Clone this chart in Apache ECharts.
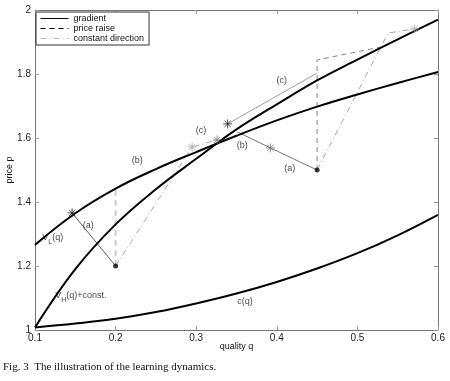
<!DOCTYPE html>
<html>
<head>
<meta charset="utf-8">
<script src="https://cdn.jsdelivr.net/npm/echarts@6/dist/echarts.min.js"></script>
<style>html,body{margin:0;padding:0;background:#fff;}#c{width:450px;height:381px;}</style>
</head>
<body>
<div id="c"></div>
<script>
// ---- data ----
const qValues = [0.10, 0.15, 0.20, 0.25, 0.30, 0.35, 0.40, 0.45, 0.50, 0.55, 0.60];
const vL = [1.266, 1.365, 1.442, 1.503, 1.556, 1.607, 1.655, 1.698, 1.736, 1.772, 1.806];
const vH = [1.008, 1.19, 1.33, 1.44, 1.535, 1.627, 1.705, 1.78, 1.845, 1.908, 1.97];
const cq = [1.008, 1.02, 1.035, 1.056, 1.083, 1.114, 1.15, 1.192, 1.24, 1.296, 1.36];

const xTicks = [0.1, 0.2, 0.3, 0.4, 0.5, 0.6];
const yTicks = [1, 1.2, 1.4, 1.6, 1.8, 2];

const gradientLeft = [[0.2, 1.2], [0.146, 1.366]];
const gradientRight = [[0.45, 1.5], [0.392, 1.569], [0.351, 1.619]];
const gradientUpper = [[0.339, 1.644], [0.45, 1.803]];
const priceRaiseLeft = [[0.2, 1.2], [0.2, 1.44]];
const priceRaiseRight = [[0.45, 1.5], [0.45, 1.844], [0.528, 1.884]];
const constDirLeft = [[0.2, 1.2], [0.295, 1.572], [0.326, 1.594]];
const constDirRight = [[0.45, 1.5], [0.538, 1.928], [0.571, 1.941]];

const starsDark = [[0.146, 1.366], [0.339, 1.644]];
const starsGray = [[0.326, 1.594], [0.392, 1.569]];
const starsLight = [[0.295, 1.572], [0.571, 1.941]];
const dots = [[0.2, 1.2], [0.45, 1.5]];

const labelTexts = ['(a)', '(b)', '(c)', '(b)', '(a)', '(c)', 'c(q)'];
const labelPos = [[0.166, 1.325], [0.227, 1.531], [0.306, 1.622], [0.357, 1.578], [0.416, 1.506], [0.406, 1.781], [0.3605, 1.09]];
const vLLabelPos = [0.122, 1.29];
const vHLabelPos = [0.157, 1.107];

// ---- chart ----
const FONT = 'Liberation Sans, Arial, sans-serif';
const starPath = 'path://M0,-5L0,5M-5,0L5,0M-3.5,-3.5L3.5,3.5M-3.5,3.5L3.5,-3.5';
const fmt = v => (Math.round(v * 10) / 10).toString();

function curve(name, ys) {
  return {
    type: 'line', name: name, data: qValues.map((x, i) => [x, ys[i]]),
    smooth: 0.4, symbol: 'none', silent: true,
    itemStyle: { color: '#000' },
    lineStyle: { color: '#000', width: 2 }, z: 3
  };
}
function seg(name, pts, color, width, type) {
  return {
    type: 'line', name: name, data: pts, symbol: 'none', silent: true,
    itemStyle: { color: 'transparent' },
    lineStyle: { color: color, width: width, type: type }, z: 2
  };
}
function stars(pts, color) {
  return {
    type: 'scatter', data: pts, symbol: starPath, symbolSize: 9, silent: true,
    itemStyle: { color: 'transparent', borderColor: color, borderWidth: 1 }, z: 4
  };
}

const chart = echarts.init(document.getElementById('c'), null, { renderer: 'canvas' });
const axisCommon = {
  axisLine: { show: true, lineStyle: { color: '#777', width: 1 } },
  axisTick: { show: true, inside: true, length: 4, lineStyle: { color: '#999' } },
  splitLine: { show: false }
};
const hiddenSymbol = { opacity: 0, color: 'transparent', borderWidth: 0 };
chart.setOption({
  animation: false,
  backgroundColor: '#fff',
  grid: { left: 35, right: 12, top: 10, bottom: 51, containLabel: false, outerBoundsMode: 'none' },
  xAxis: [
    Object.assign({
      type: 'value', min: xTicks[0], max: xTicks[xTicks.length - 1], interval: 0.1,
      position: 'bottom',
      name: 'quality q', nameLocation: 'middle', nameGap: 12, nameMoveOverlap: false,
      nameTextStyle: { fontFamily: FONT, fontSize: 9, color: '#111' },
      axisLabel: { fontFamily: FONT, fontSize: 10, color: '#222', margin: 3, formatter: fmt }
    }, axisCommon),
    Object.assign({
      type: 'value', min: xTicks[0], max: xTicks[xTicks.length - 1], interval: 0.1,
      position: 'top', axisLabel: { show: false }
    }, axisCommon)
  ],
  yAxis: [
    Object.assign({
      type: 'value', min: yTicks[0], max: yTicks[yTicks.length - 1], interval: 0.2,
      position: 'left',
      name: 'price p', nameLocation: 'middle', nameGap: 21, nameRotate: 90, nameMoveOverlap: false,
      nameTextStyle: { fontFamily: FONT, fontSize: 9, color: '#111' },
      axisLabel: { fontFamily: FONT, fontSize: 10, color: '#222', margin: 4, formatter: fmt }
    }, axisCommon),
    Object.assign({
      type: 'value', min: yTicks[0], max: yTicks[yTicks.length - 1], interval: 0.2,
      position: 'right', axisLabel: { show: false }
    }, axisCommon)
  ],
  legend: {
    left: 36, top: 12, orient: 'vertical', itemGap: 1, itemWidth: 28, itemHeight: 10,
    padding: [2, 5, 2, 4], borderColor: '#333', borderWidth: 1, backgroundColor: '#fff',
    textStyle: { fontFamily: FONT, fontSize: 9, color: '#111' },
    selectedMode: false,
    itemStyle: hiddenSymbol,
    data: [
      { name: 'gradient', itemStyle: hiddenSymbol, lineStyle: { color: '#000', width: 1, type: 'solid' } },
      { name: 'price raise', itemStyle: hiddenSymbol, lineStyle: { color: '#000', width: 1, type: [5, 4] } },
      { name: 'constant direction', itemStyle: hiddenSymbol, lineStyle: { color: '#bbb', width: 1, type: [6, 3, 1, 3] } }
    ]
  },
  graphic: [{
    type: 'text', left: 3, top: 362,
    style: { text: 'Fig. 3  The illustration of the learning dynamics.', font: '11px "Liberation Serif", serif', fill: '#111' }
  }],
  series: [
    curve('VL', vL), curve('VH', vH), curve('cq', cq),
    seg('gradient', gradientLeft, '#333', 0.8, 'solid'),
    seg('gradient', gradientRight, '#555', 0.8, 'solid'),
    seg('gradient', gradientUpper, '#888', 0.8, 'solid'),
    seg('price raise', priceRaiseLeft, '#ccc', 2, [6, 4]),
    seg('price raise', priceRaiseRight, '#888', 1, [5, 4]),
    seg('constant direction', constDirLeft, '#aaa', 1, [6, 3, 1, 3]),
    seg('constant direction', constDirRight, '#aaa', 1, [6, 3, 1, 3]),
    stars(starsDark, '#222'), stars(starsGray, '#777'), stars(starsLight, '#aaa'),
    {
      type: 'scatter', data: dots, symbol: 'circle', symbolSize: 5, silent: true,
      itemStyle: { color: '#000' }, z: 5
    },
    {
      type: 'scatter', silent: true, symbolSize: 0, z: 6,
      data: labelPos.map((p, i) => ({ value: p, label: { formatter: labelTexts[i] } })),
      label: { show: true, position: 'inside', fontFamily: FONT, fontSize: 9, color: '#111' }
    },
    {
      type: 'scatter', silent: true, symbolSize: 0, z: 6,
      data: [
        { value: vLLabelPos, label: { formatter: '{v|V}{s|L}{v|(q)}' } },
        { value: vHLabelPos, label: { formatter: '{v|V}{s|H}{v|(q)+const.}' } }
      ],
      label: {
        show: true, position: 'inside', fontFamily: FONT, fontSize: 9, color: '#111',
        rich: {
          v: { fontFamily: FONT, fontSize: 9, color: '#111', lineHeight: 16, verticalAlign: 'middle' },
          s: { fontFamily: FONT, fontSize: 7, color: '#111', lineHeight: 16, verticalAlign: 'bottom' }
        }
      }
    }
  ]
});
</script>
</body>
</html>
